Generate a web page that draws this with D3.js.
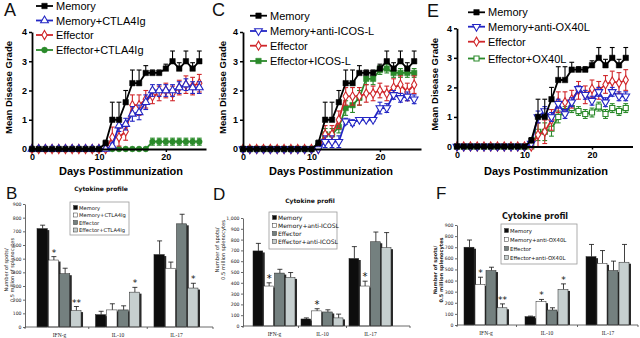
<!DOCTYPE html>
<html><head><meta charset="utf-8">
<script src="https://cdn.jsdelivr.net/npm/d3@7"></script>
<style>body{margin:0;background:#fff}svg{display:block}</style>
</head><body>
<svg id="c" width="640" height="338"></svg>
<script>
// ---------- line-panel data (days 0..25) ----------
const days = [0,1,2,3,4,5,6,7,8,9,10,11,12,13,14,15,16,17,18,19,20,21,22,23,24,25];
const memory      = [0,0,0,0,0,0,0,0,0,0,0,0.2,1.0,1.0,1.6,2.25,2.25,2.6,2.6,2.6,2.75,3.0,2.75,3.0,2.75,3.0];
const memoryErr   = [0,0,0,0,0,0,0,0,0,0,0,0.1,0.6,0.6,0.4,0.45,0.45,0.25,0.1,0.1,0.15,0.35,0.2,0.35,0.2,0.35];
// Panel A
const memCTLA4Ig    = [0,0,0,0,0,0,0,0,0,0,0,0,0.1,0.8,0.85,1.2,1.25,1.6,2.0,2.0,2.0,2.0,2.1,2.2,2.1,2.1];
const memCTLA4IgErr = [0,0,0,0,0,0,0,0,0,0,0,0,0.1,0.2,0.2,0.25,0.25,0.25,0.2,0.2,0.2,0.2,0.2,0.2,0.2,0.2];
const effA          = [0,0,0,0,0,0,0,0,0,0,0,0,0.4,0.4,0.6,1.5,1.5,1.7,1.8,1.9,2.0,1.9,2.1,2.2,2.15,2.25];
const effAErr       = [0,0,0,0,0,0,0,0,0,0,0,0,0.35,0.3,0.3,0.35,0.35,0.3,0.25,0.25,0.25,0.25,0.25,0.3,0.3,0.3];
const effCTLA4Ig    = [0,0,0,0,0,0,0,0,0,0,0,0,0,0,0,0,0,0,0.25,0.25,0.25,0.25,0.25,0.25,0.25,0.25];
const effCTLA4IgErr = [0,0,0,0,0,0,0,0,0,0,0,0,0,0,0,0,0,0,0.12,0.12,0.12,0.12,0.12,0.12,0.12,0.12];
// Panel C
const memICOSL      = [0,0,0,0,0,0,0,0,0,0,0,0,0.25,0.25,0.25,0.95,0.9,1.0,1.0,1.0,1.4,1.4,1.85,1.75,1.8,1.7];
const memICOSLErr   = [0,0,0,0,0,0,0,0,0,0,0,0,0.2,0.2,0.2,0.1,0.1,0.05,0.05,0.05,0.2,0.15,0.15,0.15,0.15,0.15];
const effC          = [0,0,0,0,0,0,0,0,0,0,0,0,0.5,0.5,1.0,1.8,1.8,1.8,1.9,1.9,2.0,1.9,2.1,2.2,1.95,2.2];
const effCErr       = [0,0,0,0,0,0,0,0,0,0,0,0,0.3,0.3,0.3,0.3,0.3,0.3,0.3,0.25,0.25,0.25,0.3,0.3,0.3,0.3];
const effICOSL      = [0,0,0,0,0,0,0,0,0,0,0,0.1,0.5,0.5,0.75,1.4,1.5,1.75,2.4,2.4,2.7,2.75,2.6,2.6,2.6,2.6];
const effICOSLErr   = [0,0,0,0,0,0,0,0,0,0,0,0.1,0.2,0.2,0.2,0.25,0.25,0.25,0.2,0.2,0.15,0.15,0.15,0.15,0.15,0.15];
// Panel E
const memOX40L      = [0,0,0,0,0,0,0,0,0,0,0,0.1,1.0,1.2,1.0,1.45,1.1,1.5,1.95,1.75,1.55,1.85,1.5,1.85,1.7,1.7];
const memOX40LErr   = [0,0,0,0,0,0,0,0,0,0,0,0.1,0.2,0.15,0.15,0.15,0.15,0.15,0.1,0.15,0.15,0.15,0.15,0.15,0.15,0.15];
const effE          = [0,0,0,0,0,0,0,0,0,0,0,0,0.4,0.5,0.9,1.5,1.5,1.6,1.9,1.75,1.95,1.9,2.1,2.2,2.15,2.25];
const effEErr       = [0,0,0,0,0,0,0,0,0,0,0,0,0.4,0.4,0.35,0.35,0.35,0.3,0.3,0.3,0.3,0.3,0.3,0.35,0.35,0.35];
const effOX40L      = [0,0,0,0,0,0,0,0,0,0,0,0,0.5,0.5,0.6,1.0,1.2,1.3,1.2,1.1,1.15,1.35,1.1,1.3,1.2,1.3];
const effOX40LErr   = [0,0,0,0,0,0,0,0,0,0,0,0,0.3,0.3,0.25,0.2,0.15,0.15,0.15,0.15,0.15,0.15,0.15,0.15,0.15,0.15];
const gradeTicks = [0,1,2,3,4];
const dayTicks = [0,10,20];

// ---------- bar-panel data (IFN-g, IL-10, IL-17) ----------
const cytokines = ["IFN-g","IL-10","IL-17"];
const B_memory = [720,90,530],  B_memoryErr = [25,25,100];
const B_memTx  = [490,125,430], B_memTxErr  = [25,45,45];
const B_eff    = [390,125,755], B_effErr    = [40,30,70];
const B_effTx  = [120,255,285], B_effTxErr  = [30,35,35];
const B_memTxStars = ["*","",""], B_effTxStars = ["**","*","*"];
const D_memory = [695,65,625],  D_memoryErr = [70,10,110];
const D_memTx  = [370,140,370], D_memTxErr  = [30,20,45];
const D_eff    = [490,130,780], D_effErr    = [35,20,90];
const D_effTx  = [450,75,725],  D_effTxErr  = [45,35,140];
const D_memTxStars = ["*","*","*"], D_effTxStars = ["","",""];
const F_memory = [700,75,615],  F_memoryErr = [65,5,110];
const F_memTx  = [365,210,555], F_memTxErr  = [65,20,115];
const F_eff    = [490,135,490], F_effErr    = [30,20,85];
const F_effTx  = [155,320,565], F_effTxErr  = [35,50,160];
const F_memTxStars = ["*","*",""], F_effTxStars = ["**","*",""];
const ticks900 = [0,100,200,300,400,500,600,700,800,900];
const ticks1000 = [0,100,200,300,400,500,600,700,800,900,1000];

const svg = d3.select("#c");
const SANS = "'Liberation Sans', Arial, sans-serif";
const BLUE = "#2326c4", RED = "#d0262a", GREEN = "#2b8a2b";

function letter(t, x, y, size) {
  svg.append("text").attr("x", x).attr("y", y).text(t)
    .attr("font-family", SANS).attr("font-size", size).attr("fill", "#111");
}

function marker(g, s, cx, cy) {
  const sym = d3.symbol().type(s.symbol).size(s.size)();
  g.append("path").attr("d", sym)
    .attr("transform", `translate(${cx},${cy}) rotate(${s.rotate || 0})`)
    .attr("fill", s.filled ? s.color : "#fff")
    .attr("stroke", s.color).attr("stroke-width", s.filled ? 0.5 : 1.1);
}

function linePanel(cfg) {
  const x = d3.scaleLinear().domain([0, 26]).range([cfg.x0, cfg.x1]);
  const y = d3.scaleLinear().domain([0, 4]).range([cfg.yb, cfg.yt]);
  const g = svg.append("g");
  cfg.series.slice().reverse().forEach(s => {
    const sg = g.append("g");
    sg.append("path").datum(days)
      .attr("d", d3.line().x(d => x(d)).y((d, i) => y(s.values[i])))
      .attr("fill", "none").attr("stroke", s.color).attr("stroke-width", 1.8);
    days.forEach((d, i) => {
      const e = s.err[i];
      if (e > 0) {
        const top = y(s.values[i] + e), bot = s.upOnly ? y(s.values[i]) : y(Math.max(0, s.values[i] - e));
        sg.append("line").attr("x1", x(d)).attr("x2", x(d)).attr("y1", top).attr("y2", bot)
          .attr("stroke", s.color).attr("stroke-width", 1.1);
        sg.append("line").attr("x1", x(d) - 2.4).attr("x2", x(d) + 2.4).attr("y1", top).attr("y2", top)
          .attr("stroke", s.color).attr("stroke-width", 1.1);
        if (!s.upOnly) sg.append("line").attr("x1", x(d) - 2.4).attr("x2", x(d) + 2.4).attr("y1", bot).attr("y2", bot)
          .attr("stroke", s.color).attr("stroke-width", 1.1);
      }
    });
    days.forEach((d, i) => marker(sg, s, x(d), y(s.values[i])));
  });
  const ya = g.append("g").attr("transform", `translate(${cfg.x0},0)`)
    .call(d3.axisLeft(y).tickValues(gradeTicks).tickFormat(d3.format("d")).tickSize(3).tickSizeOuter(0).tickPadding(2));
  const xa = g.append("g").attr("transform", `translate(0,${cfg.yb})`)
    .call(d3.axisBottom(x).tickValues(dayTicks).tickFormat(d3.format("d")).tickSize(3).tickSizeOuter(0).tickPadding(2));
  [ya, xa].forEach(a => {
    a.select(".domain").attr("stroke", "#000").attr("stroke-width", 1.8);
    a.selectAll(".tick line").attr("stroke", "#000").attr("stroke-width", 1.5);
    a.selectAll(".tick text").attr("font-family", SANS).attr("font-size", 9)
      .attr("font-weight", "bold").attr("fill", "#000");
  });
  svg.append("text").attr("transform", `translate(${cfg.ylx},${(cfg.yt + cfg.yb) / 2 - 3}) rotate(-90)`)
    .attr("text-anchor", "middle").attr("dominant-baseline", "central")
    .attr("font-family", SANS).attr("font-size", 9.5).attr("font-weight", "bold").text("Mean Disease Grade");
  svg.append("text").attr("x", cfg.xlx).attr("y", 175).attr("text-anchor", "middle")
    .attr("font-family", SANS).attr("font-size", 11).attr("font-weight", "bold").text("Days Postimmunization");
  cfg.series.forEach((s, i) => {
    const ly = cfg.legY[i];
    svg.append("line").attr("x1", cfg.legX).attr("x2", cfg.legX + 17).attr("y1", ly).attr("y2", ly)
      .attr("stroke", s.color).attr("stroke-width", 1.8);
    marker(svg, s, cfg.legX + 8.5, ly);
    svg.append("text").attr("x", cfg.legX + 20).attr("y", ly).attr("dominant-baseline", "central")
      .attr("font-family", SANS).attr("font-size", 11).attr("fill", "#000").text(s.name);
  });
}

const memSeries = { name: "Memory", values: memory, err: memoryErr, color: "#000", symbol: d3.symbolSquare, size: 30, filled: true, upOnly: true };

linePanel({ x0: 32, x1: 206, yb: 149, yt: 32, ylx: 8, xlx: 121, legX: 36, legY: [6, 20.5, 35, 50],
  series: [memSeries,
    { name: "Memory+CTLA4Ig", values: memCTLA4Ig, err: memCTLA4IgErr, color: BLUE, symbol: d3.symbolTriangle, size: 26 },
    { name: "Effector", values: effA, err: effAErr, color: RED, symbol: d3.symbolDiamond, size: 24 },
    { name: "Effector+CTLA4Ig", values: effCTLA4Ig, err: effCTLA4IgErr, color: GREEN, symbol: d3.symbolCircle, size: 26, filled: true }] });

linePanel({ x0: 243, x1: 421, yb: 149, yt: 32, ylx: 222, xlx: 331, legX: 250, legY: [15.7, 31, 45.7, 61],
  series: [memSeries,
    { name: "Memory+anti-ICOS-L", values: memICOSL, err: memICOSLErr, color: BLUE, symbol: d3.symbolTriangle, size: 26, rotate: 180 },
    { name: "Effector", values: effC, err: effCErr, color: RED, symbol: d3.symbolDiamond, size: 24 },
    { name: "Effector+ICOS-L", values: effICOSL, err: effICOSLErr, color: GREEN, symbol: d3.symbolSquare, size: 30, filled: true }] });

linePanel({ x0: 457, x1: 632.5, yb: 146.5, yt: 28.3, ylx: 434, xlx: 546, legX: 468, legY: [12.3, 26.7, 41.7, 58.5],
  series: [memSeries,
    { name: "Memory+anti-OX40L", values: memOX40L, err: memOX40LErr, color: BLUE, symbol: d3.symbolTriangle, size: 26, rotate: 180 },
    { name: "Effector", values: effE, err: effEErr, color: RED, symbol: d3.symbolDiamond, size: 24 },
    { name: "Effector+OX40L", values: effOX40L, err: effOX40LErr, color: GREEN, symbol: d3.symbolSquare, size: 26 }] });

letter("A", 4, 15.5, 18);
letter("C", 212, 15.5, 18);
letter("E", 427, 17, 18);
letter("B", 6, 199, 17);
letter("D", 213, 200, 17);
letter("F", 436, 199, 17);

// ---------- bar panels ----------
const barFill = ["#0d0d0d", "#ffffff", "#74807f", "#c6cfcf"];

function barPanel(cfg) {
  const y = d3.scaleLinear().domain([0, cfg.yMax]).range([cfg.yb, cfg.yt]);
  const xg = d3.scaleBand().domain(cytokines).range(cfg.band).paddingInner(cfg.pi).paddingOuter(0);
  const xs = d3.scaleBand().domain([0, 1, 2, 3]).range([0, xg.bandwidth()]);
  const g = svg.append("g");
  cfg.series.forEach((s, si) => {
    cytokines.forEach((c, ci) => {
      const bx = xg(c) + xs(si), bw = xs.bandwidth(), v = s.values[ci], e = s.err[ci];
      const ex = bx + bw / 2, et = y(v + e);
      g.append("line").attr("x1", ex).attr("x2", ex).attr("y1", et).attr("y2", y(v))
        .attr("stroke", "#111").attr("stroke-width", 0.8);
      g.append("line").attr("x1", ex - 2.5).attr("x2", ex + 2.5).attr("y1", et).attr("y2", et)
        .attr("stroke", "#111").attr("stroke-width", 0.8);
      g.append("rect").attr("x", bx + 1.5).attr("y", y(v) + 1.5).attr("width", bw - 0.5)
        .attr("height", cfg.yb - y(v) - 1.5).attr("fill", "#2a2a2a");
      g.append("rect").attr("x", bx).attr("y", y(v)).attr("width", bw - 1).attr("height", cfg.yb - y(v))
        .attr("fill", barFill[si]).attr("stroke", "#222").attr("stroke-width", 0.5);
      const st = s.stars ? s.stars[ci] : "";
      if (st) g.append("text").attr("x", ex).attr("y", et - 1).attr("text-anchor", "middle")
        .attr("font-family", "'DejaVu Sans', sans-serif").attr("font-size", cfg.starSize).attr("fill", "#111").text(st);
    });
  });
  const ya = g.append("g").attr("transform", `translate(${cfg.ax},0)`)
    .call(d3.axisLeft(y).tickValues(cfg.ticks).tickSize(2).tickSizeOuter(0).tickPadding(1.5));
  ya.select(".domain").attr("stroke", "#444").attr("stroke-width", 0.8);
  ya.selectAll(".tick line").attr("stroke", "#444").attr("stroke-width", 0.8);
  ya.selectAll(".tick text").attr("font-family", "'DejaVu Sans', sans-serif").attr("font-size", 4.6).attr("fill", "#222");
  g.append("line").attr("x1", cfg.ax).attr("x2", cfg.axEnd).attr("y1", cfg.yb).attr("y2", cfg.yb)
    .attr("stroke", "#444").attr("stroke-width", 0.8);
  const step = xg.step();
  const bounds = [cfg.ax, xg("IL-10") - (step - xg.bandwidth()) / 2, xg("IL-17") - (step - xg.bandwidth()) / 2, cfg.axEnd];
  bounds.forEach(b => g.append("line").attr("x1", b).attr("x2", b).attr("y1", cfg.yb).attr("y2", cfg.yb + 2)
    .attr("stroke", "#444").attr("stroke-width", 0.8));
  cytokines.forEach(c => g.append("text").attr("x", xg(c) + xg.bandwidth() / 2).attr("y", cfg.yb + 9.5)
    .attr("text-anchor", "middle").attr("font-family", "'Liberation Serif', serif").attr("font-size", 5.5)
    .attr("fill", "#222").text(c));
  cfg.ylab.forEach((t, i) => svg.append("text")
    .attr("transform", `translate(${cfg.ylx + i * cfg.ylGap},${cfg.ylCy}) rotate(-90)`)
    .attr("text-anchor", "middle").attr("dominant-baseline", "central")
    .attr("font-family", "'DejaVu Sans', sans-serif").attr("font-size", cfg.ylSize)
    .attr("font-weight", cfg.ylBold ? "bold" : "normal").attr("fill", "#222").text(t));
  svg.append("text").attr("x", cfg.titleX).attr("y", cfg.titleY).attr("text-anchor", "middle")
    .attr("font-family", "'DejaVu Sans', sans-serif").attr("font-size", cfg.titleSize).attr("font-weight", "bold")
    .attr("fill", "#111").text(cfg.title);
  const L = cfg.leg;
  svg.append("rect").attr("x", L.x).attr("y", L.y).attr("width", L.w).attr("height", L.h)
    .attr("fill", "#fff").attr("stroke", "#999").attr("stroke-width", 0.8);
  cfg.series.forEach((s, i) => {
    const ly = L.rows[i];
    svg.append("rect").attr("x", L.x + 3.5).attr("y", ly - 2).attr("width", 4).attr("height", 4)
      .attr("fill", barFill[i]).attr("stroke", "#333").attr("stroke-width", 0.5);
    svg.append("text").attr("x", L.x + 9).attr("y", ly).attr("dominant-baseline", "central")
      .attr("font-family", "'DejaVu Sans', sans-serif").attr("font-size", L.fs).attr("fill", "#111").text(s.name);
  });
}

barPanel({ yMax: 900, ticks: ticks900, yb: 327, yt: 204, band: [37, 199], pi: 0.23, ax: 25, axEnd: 213, starSize: 9,
  ylab: ["Number of spots/", "0.5 million of splenocytes"], ylx: 5.5, ylGap: 6, ylCy: 270, ylSize: 5, ylBold: false,
  title: "Cytokine profile", titleX: 101, titleY: 191, titleSize: 6,
  leg: { x: 70, y: 202, w: 59, h: 33, rows: [207.5, 215, 222.5, 230], fs: 5.2 },
  series: [
    { name: "Memory", values: B_memory, err: B_memoryErr },
    { name: "Memory+CTLA4Ig", values: B_memTx, err: B_memTxErr, stars: B_memTxStars },
    { name: "Effector", values: B_eff, err: B_effErr },
    { name: "Effector+CTLA4Ig", values: B_effTx, err: B_effTxErr, stars: B_effTxStars }] });

barPanel({ yMax: 1000, ticks: ticks1000, yb: 326, yt: 218, band: [253, 392], pi: 0.104, ax: 243, axEnd: 410, starSize: 10,
  ylab: ["Number of spots/", "0.5 million splenocytes"], ylx: 216.5, ylGap: 6, ylCy: 250, ylSize: 5.2, ylBold: false,
  title: "Cytokine profil", titleX: 310, titleY: 203, titleSize: 6,
  leg: { x: 269, y: 212, w: 68, h: 37, rows: [217.5, 225.5, 233.5, 241.5], fs: 6 },
  series: [
    { name: "Memory", values: D_memory, err: D_memoryErr },
    { name: "Memory+anti-ICOSL", values: D_memTx, err: D_memTxErr, stars: D_memTxStars },
    { name: "Effector", values: D_eff, err: D_effErr },
    { name: "Effector+anti-ICOSL", values: D_effTx, err: D_effTxErr, stars: D_effTxStars }] });

barPanel({ yMax: 900, ticks: ticks900, yb: 325, yt: 225, band: [464, 630], pi: 0.279, ax: 457, axEnd: 638, starSize: 9,
  ylab: ["Number of spots/", "0.5 million splenocytes"], ylx: 435, ylGap: 5.5, ylCy: 270, ylSize: 5, ylBold: true,
  title: "Cytokine profil", titleX: 535, titleY: 219, titleSize: 8,
  leg: { x: 501, y: 224, w: 76, h: 40, rows: [230.5, 239.5, 248.5, 257.5], fs: 5.4 },
  series: [
    { name: "Memory", values: F_memory, err: F_memoryErr },
    { name: "Memory+anti-OX40L", values: F_memTx, err: F_memTxErr, stars: F_memTxStars },
    { name: "Effector", values: F_eff, err: F_effErr },
    { name: "Effector+anti-OX40L", values: F_effTx, err: F_effTxErr, stars: F_effTxStars }] });
</script>
</body></html>
